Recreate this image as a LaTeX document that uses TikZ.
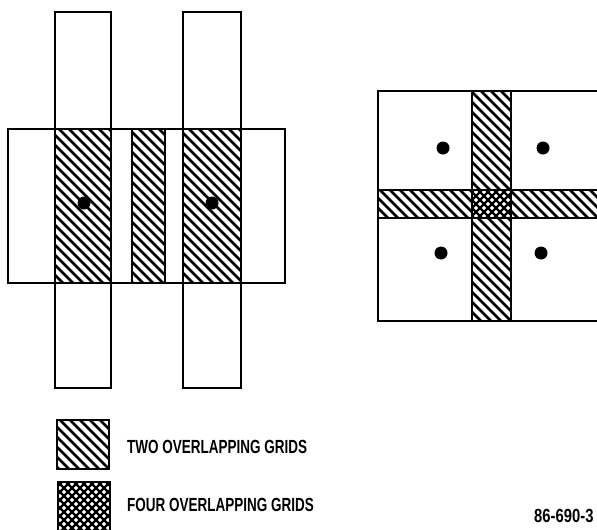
\documentclass[tikz,border=0pt]{standalone}
\usepackage{fontspec}
\setmainfont{Liberation Sans}[FakeStretch=0.71]
\newfontfamily\numfont{Liberation Sans}[FakeStretch=0.78]
\tikzset{
  outline/.style={line width=2.5pt, line join=miter},
  hatchline/.style={line width=2.5pt},
  dotmark/.style={circle, fill=black, inner sep=0pt, minimum size=13pt},
  legendtext/.style={anchor=west, inner sep=0pt, font=\fontsize{19}{22}\selectfont\bfseries},
  numtext/.style={anchor=west, inner sep=0pt, font=\numfont\fontsize{19}{22}\selectfont\bfseries},
}
\newcommand\hatchNW[4]{%
  \begin{scope}
    \clip (#1,#2) rectangle (#3,#4);
    \foreach \k in {-60,...,60} {\draw[hatchline] (\k*10,0) -- ++(600,600);}
  \end{scope}}
\newcommand\crossH[4]{%
  \begin{scope}
    \clip (#1,#2) rectangle (#3,#4);
    \foreach \k in {-80,...,80} {\draw[hatchline, line width=2.3pt] (\k*8,0) -- ++(600,600);}
    \foreach \k in {0,...,160} {\draw[hatchline, line width=2.3pt] (\k*8,0) -- ++(-600,600);}
  \end{scope}}
\begin{document}
\begin{tikzpicture}[x=1pt, y=-1pt]
\useasboundingbox (0,0) rectangle (597,530);
\clip (0,0) rectangle (597,530);
\fill[white] (0,0) rectangle (597,530);

% ---- left figure ----
\hatchNW{55}{129}{111}{283}
\hatchNW{183}{129}{241}{283}
\hatchNW{132}{129}{165}{283}
\draw[outline] (55,12) rectangle (111,388);
\draw[outline] (183,12) rectangle (241,388);
\draw[outline] (8,129) rectangle (285,283);
\draw[outline] (132,129) rectangle (165,283);
\node[dotmark] (d1) at (84,203) {};
\node[dotmark] (d2) at (212,203) {};

% ---- right figure ----
\hatchNW{472}{91}{511}{321}
\hatchNW{378}{190}{610}{218}
\fill[white] (472,190) rectangle (511,218);
\crossH{472}{190}{511}{218}
\draw[outline] (378,91) rectangle (610,321);
\draw[outline] (472,91) rectangle (511,321);
\draw[outline] (378,190) rectangle (610,218);
\node[dotmark] (d3) at (443,148) {};
\node[dotmark] (d4) at (543,148) {};
\node[dotmark] (d5) at (441,253) {};
\node[dotmark] (d6) at (541,253) {};

% ---- legend ----
\hatchNW{57}{420}{109}{469}
\draw[outline] (57,420) rectangle (109,469);
\crossH{58}{482}{110}{540}
\draw[outline] (58,482) rectangle (110,540);
\node[legendtext] (t1) at (127,447) {TWO OVERLAPPING GRIDS};
\node[legendtext] (t2) at (127,505) {FOUR OVERLAPPING GRIDS};
\node[numtext] (t3) at (534,516) {86-690-3};
\end{tikzpicture}
\end{document}
